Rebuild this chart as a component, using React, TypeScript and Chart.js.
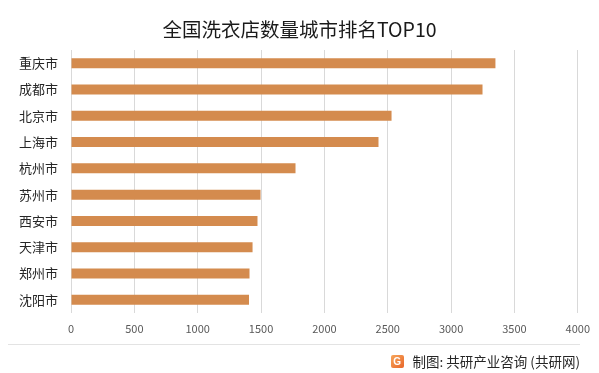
import React, { useEffect, useRef } from "react";
import { Chart, registerables } from "chart.js";

Chart.register(...registerables);

const cities = ["重庆市", "成都市", "北京市", "上海市", "杭州市", "苏州市", "西安市", "天津市", "郑州市", "沈阳市"];
const storeCounts = [3350, 3248, 2530, 2427, 1772, 1496, 1472, 1433, 1409, 1405];
const xMin = 0;
const xMax = 4000;
const xStep = 500;
const titleText = "全国洗衣店数量城市排名TOP10";
const sourceText = "制图: 共研产业咨询 (共研网)";

const CJK = '"Noto Sans CJK SC", "Noto Sans", sans-serif';

export default function App() {
  const ref = useRef<HTMLCanvasElement | null>(null);

  useEffect(() => {
    if (!ref.current) return;
    const chart = new Chart(ref.current, {
      type: "bar",
      data: {
        labels: cities,
        datasets: [
          {
            data: storeCounts,
            backgroundColor: "#D48B4E",
            borderWidth: 0,
            barPercentage: 0.38,
            categoryPercentage: 1,
          },
        ],
      },
      options: {
        indexAxis: "y",
        animation: false,
        responsive: false,
        maintainAspectRatio: false,
        layout: { padding: { top: 50, right: 21, bottom: 0, left: 0 } },
        plugins: {
          legend: { display: false },
          title: { display: false },
          tooltip: { enabled: false },
        },
        scales: {
          x: {
            min: xMin,
            max: xMax,
            ticks: {
              stepSize: xStep,
              color: "#595959",
              font: { family: CJK, size: 11 },
              padding: 9,
              callback: (v: any) => String(v),
            },
            grid: { color: "#d9d9d9", lineWidth: 1, drawTicks: false },
            border: { display: false },
            afterFit: (s: any) => {
              s.height = 60;
            },
          },
          y: {
            ticks: {
              color: "#262626",
              font: { family: CJK, size: 13 },
              padding: 13,
            },
            grid: { display: false, drawTicks: false },
            border: { display: false },
            afterFit: (s: any) => {
              s.width = 71;
            },
          },
        },
      },
    });
    return () => chart.destroy();
  }, []);

  return (
    <div style={{ position: "fixed", left: 0, top: 0, width: 599, height: 373, background: "#fff", overflow: "hidden" }}>
      <canvas ref={ref} width={599} height={373} style={{ position: "absolute", left: 0, top: 0 }} />
      <div
        style={{
          position: "absolute",
          left: 0,
          top: 15,
          width: 599,
          textAlign: "center",
          fontFamily: CJK,
          fontSize: 19.5,
          lineHeight: "28px",
          color: "#1a1a1a",
        }}
      >
        {titleText}
      </div>
      <div style={{ position: "absolute", left: 8, top: 344, width: 572, height: 1, background: "#e3e3e3" }} />
      <div
        style={{
          position: "absolute",
          right: 19,
          top: 351,
          display: "flex",
          alignItems: "center",
          fontFamily: CJK,
          fontSize: 13.5,
          lineHeight: "20px",
          color: "#262626",
        }}
      >
        <div
          style={{
            width: 13,
            height: 13,
            borderRadius: 2,
            background: "linear-gradient(135deg, #f7a55a, #e8662a)",
            color: "#fff",
            fontSize: 10,
            fontWeight: 700,
            lineHeight: "13px",
            textAlign: "center",
            marginRight: 9,
            fontFamily: "Arial, sans-serif",
          }}
        >
          G
        </div>
        <span>{sourceText}</span>
      </div>
    </div>
  );
}
